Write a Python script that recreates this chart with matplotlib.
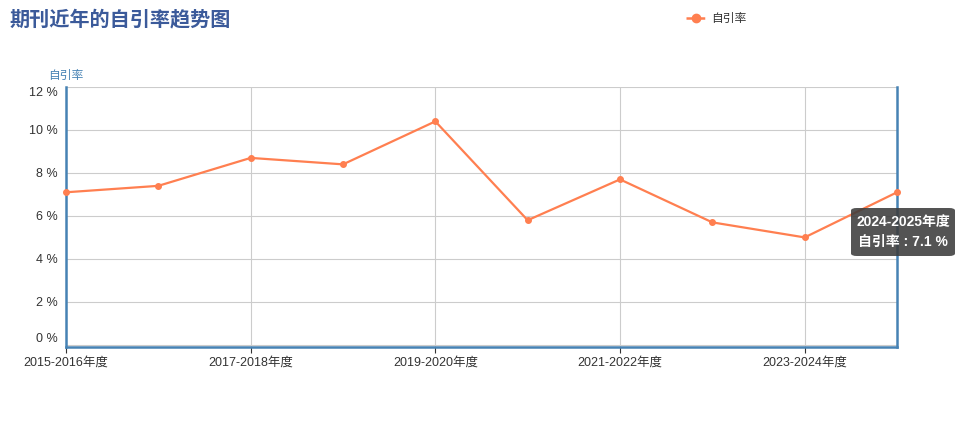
import matplotlib.pyplot as plt
from matplotlib.patches import FancyBboxPatch

plt.rcParams['font.family'] = ['Liberation Sans', 'Noto Sans CJK SC', 'DejaVu Sans']
cjk = ['Noto Sans CJK SC', 'DejaVu Sans']

years = ['2015-2016年度', '2016-2017年度', '2017-2018年度', '2018-2019年度',
         '2019-2020年度', '2020-2021年度', '2021-2022年度', '2022-2023年度',
         '2023-2024年度', '2024-2025年度']
rate = [7.1, 7.4, 8.7, 8.4, 10.4, 5.8, 7.7, 5.7, 5.0, 7.1]
yticks = [0, 2, 4, 6, 8, 10, 12]

line_c = '#FF7F50'
axis_c = '#4682B4'

fig = plt.figure(figsize=(9.76, 4.29), dpi=100)
ax = fig.add_axes([66 / 976, 82 / 429, 831 / 976, 260 / 429])

x = list(range(len(years)))
ax.plot(x, rate, color=line_c, lw=1.6, marker='o', ms=4, zorder=3, clip_on=False)

ax.set_xlim(0, len(years) - 1)
ax.set_ylim(-0.1, 12)
ax.set_yticks(yticks)
ylabs = ax.set_yticklabels([f'{v} %' for v in yticks], fontsize=9, color='#333333')
ylabs[0].set_va('bottom')
ylabs[-1].set_va('top')
ax.set_xticks(x[::2])
ax.set_xticklabels(years[::2], fontsize=9, color='#333333')
ax.tick_params(axis='y', length=0, pad=6)
ax.tick_params(axis='x', length=4, color='#333333', pad=3)
ax.grid(True, color='#cccccc', lw=0.8)
ax.set_axisbelow(True)
for s in ['left', 'right', 'bottom']:
    ax.spines[s].set_color(axis_c)
    ax.spines[s].set_linewidth(1.8)
ax.spines['top'].set_visible(False)

fig.text(10 / 976, 1 - 19 / 429, '期刊近年的自引率趋势图', fontsize=14.5, fontweight='bold',
         color='#3B5A9A', va='center', ha='left', family=cjk)
fig.text(48 / 976, 1 - 75 / 429, '自引率', fontsize=8.5, color=axis_c, va='center', ha='left',
         family=cjk)

# legend
fig.lines.append(plt.Line2D([686 / 976, 706 / 976], [1 - 18 / 429] * 2, transform=fig.transFigure,
                            color=line_c, lw=1.8, ls=(0, (3, 1.5))))
fig.lines.append(plt.Line2D([696 / 976], [1 - 18 / 429], transform=fig.transFigure,
                            color=line_c, marker='o', ms=6))
fig.text(711 / 976, 1 - 18 / 429, '自引率', fontsize=8.5, color='#333333', va='center', ha='left',
         family=cjk)

# tooltip
box = FancyBboxPatch((851 / 976, 1 - 256 / 429), 104 / 976, 48 / 429,
                     boxstyle='round,pad=0,rounding_size=0.006', transform=fig.transFigure,
                     facecolor='#3c3c3c', edgecolor='none', alpha=0.88, zorder=5)
fig.patches.append(box)
fig.text(903 / 976, 1 - 222 / 429, years[-1], fontsize=10, color='white', fontweight='bold',
         ha='center', va='center', zorder=6)
fig.text(903 / 976, 1 - 242 / 429, f'自引率 : {rate[-1]} %', fontsize=10, color='white',
         fontweight='bold', ha='center', va='center', zorder=6)

fig.savefig('out.png', dpi=100)
